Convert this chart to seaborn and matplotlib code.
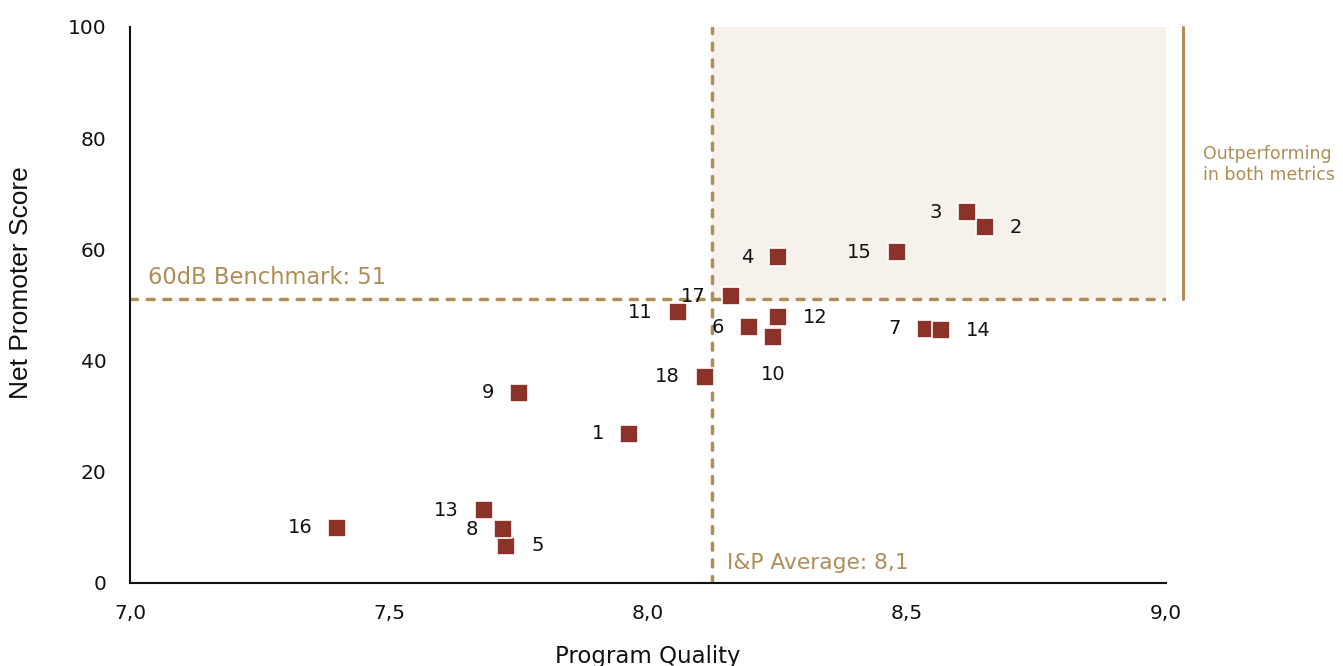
import matplotlib
matplotlib.use("Agg")
import matplotlib.pyplot as plt
import matplotlib.ticker as mticker
import seaborn as sns
import pandas as pd

# ---- data ----
labels = ["1", "2", "3", "4", "5", "6", "7", "8", "9", "10",
          "11", "12", "13", "14", "15", "16", "17", "18"]
program_quality = [7.963, 8.650, 8.616, 8.251, 7.726, 8.195, 8.537, 7.720, 7.751, 8.241,
                   8.058, 8.251, 7.683, 8.566, 8.481, 7.400, 8.160, 8.110]
nps = [26.8, 64.0, 66.7, 58.6, 6.7, 46.0, 45.7, 9.7, 34.2, 44.2,
       48.7, 47.8, 13.1, 45.5, 59.5, 9.9, 51.6, 37.1]
avg_quality = 8.124
benchmark_nps = 51.0
x_ticks = [7.0, 7.5, 8.0, 8.5, 9.0]
y_ticks = [0, 20, 40, 60, 80, 100]

# label placement (style only)
label_side = {"5": "right", "12": "right", "14": "right", "2": "right", "10": "below"}

GOLD = "#B08D57"
RED = "#8B3229"
SHADE = "#F6F1EA"
INK = "#111111"

sns.set_theme(style="white")
plt.rcParams["font.family"] = ["DejaVu Sans"]

fig = plt.figure(figsize=(13.43, 6.66), dpi=100)
ax = fig.add_axes([130 / 1343, 1 - 583 / 666, (1166 - 130) / 1343, (583 - 27) / 666])

df = pd.DataFrame({"label": labels, "x": program_quality, "y": nps})

ax.set_xlim(7.0, 9.0)
ax.set_ylim(0, 100)

# outperforming quadrant
ax.fill_between([avg_quality, 9.0], benchmark_nps, 100, color=SHADE, zorder=0, linewidth=0)

dash = (0, (2.0, 2.8))
ax.axhline(benchmark_nps, color=GOLD, lw=2.5, ls=dash, dash_capstyle="round", zorder=1)
ax.axvline(avg_quality, color=GOLD, lw=2.5, ls=dash, dash_capstyle="round", zorder=1)

sns.scatterplot(data=df, x="x", y="y", marker="s", s=150, color=RED,
                edgecolor="white", linewidth=1.2, ax=ax, zorder=3, legend=False)

for lab, xv, yv in zip(labels, program_quality, nps):
    side = label_side.get(lab, "left")
    if side == "left":
        ax.annotate(lab, (xv, yv), xytext=(-18, 0), textcoords="offset points",
                    ha="right", va="center", fontsize=14, color=INK)
    elif side == "right":
        ax.annotate(lab, (xv, yv), xytext=(18, 0), textcoords="offset points",
                    ha="left", va="center", fontsize=14, color=INK)
    else:
        ax.annotate(lab, (xv, yv), xytext=(0, -27), textcoords="offset points",
                    ha="center", va="center", fontsize=14, color=INK)

ax.text(7.034, 55.0, "60dB Benchmark: 51", color=GOLD, fontsize=16.3,
        ha="left", va="center")
ax.text(avg_quality + 0.028, 3.6, "I&P Average: 8,1", color=GOLD, fontsize=15.7,
        ha="left", va="center")

# bracket on the right
ax.plot([9.033, 9.033], [benchmark_nps, 100], color=GOLD, lw=2.2, clip_on=False)
ax.text(9.072, 75.3, "Outperforming\nin both metrics", color=GOLD, fontsize=12.5,
        ha="left", va="center", linespacing=1.25, clip_on=False)

ax.set_xticks(x_ticks)
ax.set_yticks(y_ticks)
ax.xaxis.set_major_formatter(mticker.FuncFormatter(lambda v, p: f"{v:.1f}".replace(".", ",")))
ax.tick_params(axis="both", length=0, labelsize=14.5, colors=INK)
ax.tick_params(axis="x", pad=15)
ax.tick_params(axis="y", pad=17)

for s in ["top", "right"]:
    ax.spines[s].set_visible(False)
for s in ["left", "bottom"]:
    ax.spines[s].set_color(INK)
    ax.spines[s].set_linewidth(1.5)

ax.set_xlabel("Program Quality", fontsize=16.5, color=INK, labelpad=16)
ax.set_ylabel("Net Promoter Score", fontsize=19, color=INK,
              family=["Liberation Sans", "DejaVu Sans"])
ax.yaxis.set_label_coords(-0.094, 0.541)
ax.grid(False)

fig.savefig("out.png", dpi=100)
